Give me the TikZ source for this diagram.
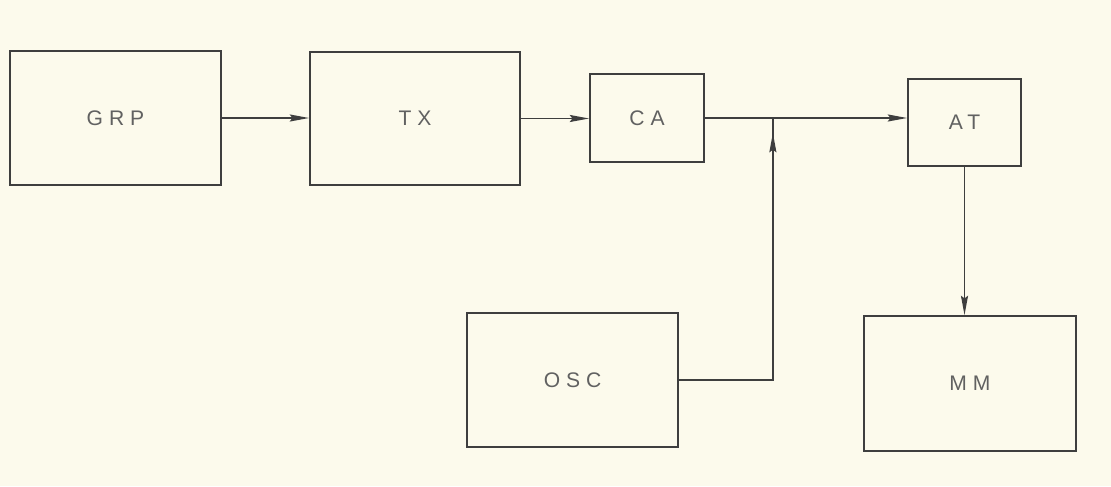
\documentclass[tikz,border=0pt]{standalone}
\usepackage{fontspec}
\usepackage{xcolor}
\usepackage{tikz}
\usetikzlibrary{arrows.meta,positioning,calc}
\newfontfamily\blkfont[LetterSpace=28]{Liberation Sans}
\definecolor{paper}{RGB}{252,250,236}
\definecolor{ink}{RGB}{62,62,62}
\tikzset{blk/.style={draw=ink,line width=1pt,inner sep=0pt,minimum width=#1,
    text=black!62,font=\blkfont\fontsize{12}{14}\selectfont},
  wire/.style={draw=ink,line width=0.9pt}}
\begin{document}
\begin{tikzpicture}[>={Stealth[length=11pt,width=4pt,inset=1.5pt]}]
  \fill[paper] (0,0) rectangle (22.22,9.72);
  \useasboundingbox (0,0) rectangle (22.22,9.72);
  \node[blk=4.22cm,minimum height=2.68cm] (grp) at (2.31,7.36) {GRP};
  \node[blk=4.20cm,minimum height=2.66cm] (tx) at (8.30,7.35) {TX};
  \node[blk=2.28cm,minimum height=1.76cm] (ca) at (12.94,7.36) {CA};
  \node[blk=2.26cm,minimum height=1.74cm] (at) at (19.29,7.27) {AT};
  \node[blk=4.22cm,minimum height=2.68cm] (osc) at (11.45,2.12) {OSC};
  \node[blk=4.24cm,minimum height=2.70cm] (mm) at (19.40,2.05) {MM};
  \path (ca.east) ++(1.36,0) coordinate (jn);
  \path (jn) ++(0,-0.3) coordinate (tip);
  \draw[wire,->] (grp.east) -- (grp.east -| tx.west);
  \draw[wire,->] (tx.east) -- (tx.east -| ca.west);
  \draw[wire,->] (ca.east) -- (ca.east -| at.west);
  \draw[wire] (osc.east) -| (jn);
  \draw[wire,->] (osc.east -| tip) -- (tip);
  \draw[wire,->] (at.south) -- (at.south |- mm.north);
\end{tikzpicture}
\end{document}
